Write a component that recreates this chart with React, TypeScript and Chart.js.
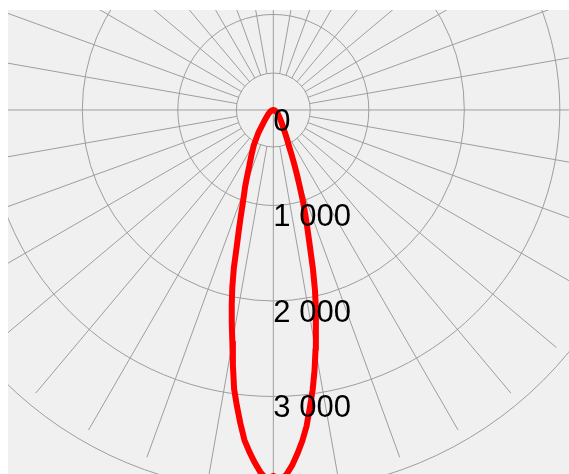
import React, { useEffect, useRef } from "react";
import { Chart, registerables } from "chart.js";

Chart.register(...registerables);

// Polar luminous intensity distribution (cd), gamma measured from nadir
const gammaC0 = [0, 1, 2, 3, 4, 5, 6, 7, 8, 9, 10, 11, 12, 13, 14, 15, 16, 17, 18, 19, 20, 21, 22, 23, 25, 27, 30, 35, 40, 50, 60, 70, 80, 90];
const intensityC0 = [3830, 3870, 3825, 3730, 3610, 3480, 3330, 3140, 2960, 2760, 2545, 2340, 2140, 1940, 1715, 1480, 1300, 1145, 1000, 850, 730, 625, 525, 440, 345, 270, 200, 140, 100, 60, 35, 20, 10, 0];
const gammaC180 = [0, 1, 2, 3, 4, 5, 6, 7, 8, 9, 10, 11, 12, 13, 14, 15, 16, 17, 18, 19, 20, 21, 23, 26, 29, 33, 40, 50, 60, 70, 80, 90];
const intensityC180 = [3830, 3870, 3800, 3700, 3590, 3470, 3300, 3125, 2950, 2705, 2470, 2280, 2095, 1910, 1710, 1480, 1310, 1165, 1040, 945, 870, 790, 650, 520, 420, 290, 140, 70, 40, 20, 10, 0];

const ringValues = [0, 1000, 2000, 3000, 4000];
const ringLabels = ["0", "1 000", "2 000", "3 000", "4 000"];
const spokeStepDeg = 10;

const xMin = -2778;
const xMax = 3096;
const yMin = -3812;
const yMax = 1047;

const GRID = "#9e9e9e";
const BG = "#f0f0f0";
const CURVE = "#ff0000";

function buildPoints() {
  const pts: { x: number; y: number }[] = [];
  // C180 half-plane on the left, from 90° down to nadir
  for (let i = gammaC180.length - 1; i >= 0; i--) {
    const g = (gammaC180[i] * Math.PI) / 180;
    const I = intensityC180[i];
    pts.push({ x: -I * Math.sin(g), y: -I * Math.cos(g) });
  }
  // C0 half-plane on the right, from nadir up to 90°
  for (let i = 1; i < gammaC0.length; i++) {
    const g = (gammaC0[i] * Math.PI) / 180;
    const I = intensityC0[i];
    pts.push({ x: I * Math.sin(g), y: -I * Math.cos(g) });
  }
  return pts;
}

const maxIntensity = Math.max(...intensityC0, ...intensityC180);

const polarGrid = {
  id: "polarGrid",
  beforeDatasetsDraw(chart: any) {
    const { ctx, width, height } = chart;
    const xs = chart.scales.x;
    const ys = chart.scales.y;
    const cx = xs.getPixelForValue(0);
    const cy = ys.getPixelForValue(0);
    const rad = (v: number) => Math.abs(xs.getPixelForValue(v) - cx);
    const R = rad(maxIntensity);
    ctx.save();
    ctx.fillStyle = BG;
    ctx.fillRect(0, 0, width, height);
    ctx.strokeStyle = GRID;
    ctx.lineWidth = 1;
    ringValues.forEach((v) => {
      if (v <= 0) return;
      ctx.beginPath();
      ctx.arc(cx, cy, rad(v), 0, Math.PI * 2);
      ctx.stroke();
    });
    ctx.beginPath();
    ctx.arc(cx, cy, R * 0.1, 0, Math.PI * 2);
    ctx.stroke();
    for (let a = 0; a < 360; a += spokeStepDeg) {
      const t = (a * Math.PI) / 180;
      const r0 = a % 90 === 0 ? 0 : R * 0.1;
      ctx.beginPath();
      ctx.moveTo(cx + r0 * Math.sin(t), cy + r0 * Math.cos(t));
      ctx.lineTo(cx + R * Math.sin(t), cy + R * Math.cos(t));
      ctx.stroke();
    }
    ctx.restore();
  },
  afterDatasetsDraw(chart: any) {
    const { ctx } = chart;
    const xs = chart.scales.x;
    const ys = chart.scales.y;
    const cx = xs.getPixelForValue(0);
    ctx.save();
    ctx.fillStyle = "#000000";
    ctx.font = "31px 'Liberation Sans', Arial, sans-serif";
    ctx.textAlign = "left";
    ctx.textBaseline = "alphabetic";
    ringValues.forEach((v, i) => {
      const py = ys.getPixelForValue(-v);
      ctx.fillText(ringLabels[i], cx, py + 21);
    });
    ctx.restore();
  },
};

export default function App() {
  const ref = useRef<HTMLCanvasElement | null>(null);
  useEffect(() => {
    if (!ref.current) return;
    const chart = new Chart(ref.current, {
      type: "scatter",
      data: {
        datasets: [
          {
            data: buildPoints(),
            showLine: true,
            borderColor: CURVE,
            backgroundColor: CURVE,
            borderWidth: 6,
            pointRadius: 0,
            tension: 0,
            borderJoinStyle: "round",
            borderCapStyle: "round",
          } as any,
        ],
      },
      options: {
        responsive: false,
        animation: false,
        layout: { padding: 0 },
        plugins: { legend: { display: false }, tooltip: { enabled: false } },
        scales: {
          x: { type: "linear", min: xMin, max: xMax, display: false },
          y: { type: "linear", min: yMin, max: yMax, display: false },
        },
      },
      plugins: [polarGrid],
    });
    return () => chart.destroy();
  }, []);
  return (
    <div style={{ position: "absolute", left: 8, top: 10, width: 561, height: 464, overflow: "hidden" }}>
      <canvas ref={ref} width={561} height={464} style={{ display: "block" }} />
    </div>
  );
}
